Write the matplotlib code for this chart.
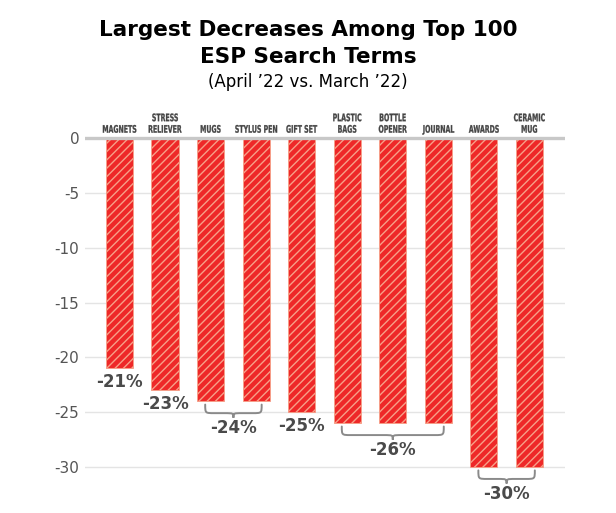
import numpy as np
import matplotlib.pyplot as plt
from matplotlib.path import Path
from matplotlib.patches import PathPatch
from matplotlib.textpath import TextPath
from matplotlib.font_manager import FontProperties
from matplotlib.transforms import Affine2D

terms = ['MAGNETS', 'STRESS\nRELIEVER', 'MUGS', 'STYLUS PEN', 'GIFT SET',
         'PLASTIC\nBAGS', 'BOTTLE\nOPENER', 'JOURNAL', 'AWARDS', 'CERAMIC\nMUG']
change = [-21, -23, -24, -24, -25, -26, -26, -26, -30, -30]

# groups of bars that share one label: (first index, last index, value)
groups = [(0, 0, -21), (1, 1, -23), (2, 3, -24), (4, 4, -25), (5, 7, -26), (8, 9, -30)]

yticks = [0, -5, -10, -15, -20, -25, -30]

bar_red = '#ee2828'
hatch_col = '#f7a088'
label_gray = '#444444'

plt.rcParams['hatch.linewidth'] = 1.0

fig = plt.figure(figsize=(6.16, 5.13), dpi=100)
ax = fig.add_axes([0.138, 0.004, 0.779, 0.748])

x = np.arange(len(terms))
ax.bar(x, change, width=0.6, color=bar_red, edgecolor=hatch_col,
       linewidth=0.6, hatch='////', zorder=3)

ax.set_xlim(-0.76, 9.78)
ax.set_ylim(-34, 1)

for s in ax.spines.values():
    s.set_visible(False)
ax.set_xticks([])
ax.set_yticks(yticks)
ax.set_yticklabels([str(t) for t in yticks], fontsize=11, color='#555555')
ax.tick_params(axis='y', length=0, pad=4)
for t in yticks:
    if t == 0:
        ax.axhline(t, color='#c8c8c8', lw=2.4, zorder=4)
    else:
        ax.axhline(t, color='#e4e4e4', lw=1, zorder=1)

# condensed category labels: squeeze a bold text path sideways
fp = FontProperties(family='DejaVu Sans', weight='bold')


def narrow_label(xc, text, size=10.4, sx=0.6, lead=11.5):
    xd, yd = ax.transData.transform((xc, 0))
    yd += 5.5
    for k, line in enumerate(reversed(text.split('\n'))):
        tp = TextPath((0, 0), line, size=size, prop=fp)
        bb = tp.get_extents()
        tr = (Affine2D().translate(-(bb.x0 + bb.width / 2), 0)
              .scale(sx, 1).translate(xd, yd + k * lead))
        fig.add_artist(PathPatch(tp, transform=tr, facecolor=label_gray,
                                 edgecolor=label_gray, linewidth=0.2))


for xi, name in zip(x, terms):
    narrow_label(xi, name)


def brace(x0, x1, ytop, h):
    xm = (x0 + x1) / 2
    r = 0.2
    ym = ytop - h * 0.65
    yb = ytop - h
    verts = [(x0, ytop), (x0, ym), (x0, ym), (x0 + r, ym),
             (xm - r, ym), (xm, ym), (xm, ym), (xm, yb),
             (xm, ym), (xm, ym), (xm + r, ym),
             (x1 - r, ym), (x1, ym), (x1, ym), (x1, ytop)]
    codes = [Path.MOVETO, Path.CURVE4, Path.CURVE4, Path.CURVE4,
             Path.LINETO, Path.CURVE4, Path.CURVE4, Path.CURVE4,
             Path.CURVE4, Path.CURVE4, Path.CURVE4,
             Path.LINETO, Path.CURVE4, Path.CURVE4, Path.CURVE4]
    ax.add_patch(PathPatch(Path(verts, codes), fill=False, edgecolor='#8a8a8a',
                           lw=1.4, capstyle='round', zorder=3))


for i0, i1, val in groups:
    if i0 == i1:
        ax.text(i0, val - 0.45, f'{val}%', ha='center', va='top', fontsize=12,
                fontweight='bold', color='#4a4a4a')
    else:
        brace(i0 - 0.12, i1 + 0.12, val - 0.3, 1.2)
        ax.text((i0 + i1) / 2, val - 1.65, f'{val}%', ha='center', va='top',
                fontsize=12, fontweight='bold', color='#4a4a4a')

fig.text(0.5, 0.942, 'Largest Decreases Among Top 100', ha='center', va='center',
         fontsize=15.5, fontweight='heavy', color='black')
fig.text(0.5, 0.889, 'ESP Search Terms', ha='center', va='center',
         fontsize=15.5, fontweight='heavy', color='black')
fig.text(0.5, 0.84, '(April \u201922 vs. March \u201922)', ha='center', va='center',
         fontsize=12, color='black')

fig.savefig('out.png', dpi=100)
